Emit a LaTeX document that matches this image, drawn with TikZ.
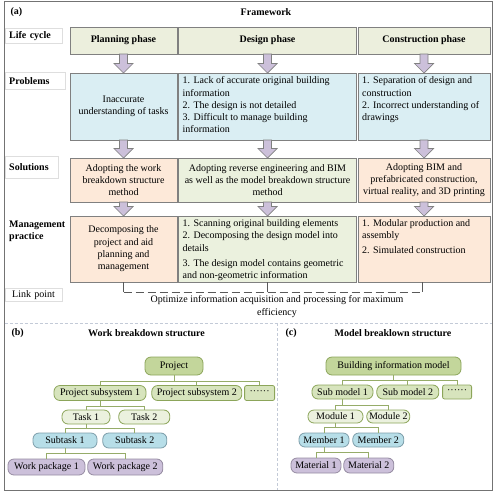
\documentclass[tikz,border=0pt]{standalone}
\usepackage{fontspec}
\setmainfont{Liberation Serif}
\usetikzlibrary{positioning, calc}

\newcommand{\cellfont}{\fontsize{10}{12.3}\selectfont}

\definecolor{cellline}{RGB}{128,128,128}
\definecolor{lifefill}{RGB}{236,239,221}
\definecolor{probfill}{RGB}{218,238,243}
\definecolor{peachfill}{RGB}{253,233,217}
\definecolor{greenfill}{RGB}{235,241,222}
\definecolor{arrfill}{RGB}{204,192,218}
\definecolor{arrline}{RGB}{128,128,128}
\definecolor{labline}{RGB}{222,222,222}
\definecolor{sepline}{RGB}{195,202,215}
\definecolor{lvAfill}{RGB}{195,214,155}
\definecolor{lvBfill}{RGB}{215,228,189}
\definecolor{lvCfill}{RGB}{235,241,222}
\definecolor{lvDfill}{RGB}{183,222,232}
\definecolor{lvEfill}{RGB}{204,192,218}
\definecolor{greenline}{RGB}{140,165,90}
\definecolor{blueline}{RGB}{125,158,170}
\definecolor{purpline}{RGB}{150,140,162}
\definecolor{treeline}{RGB}{150,172,105}

\begin{document}
\begin{tikzpicture}[
  x=1pt, y=-1pt,
  font=\cellfont,
  node distance=19pt and 1.5pt,
  cell/.style={draw=cellline, line width=0.8pt, inner sep=0pt, outer sep=0pt, align=center},
  lifecell/.style={cell, fill=lifefill, minimum height=27pt, font=\cellfont\bfseries},
  probcell/.style={cell, fill=probfill, minimum height=67pt},
  solcell/.style={cell, minimum height=44pt},
  mgmtcell/.style={cell, minimum height=66pt},
  listtxt/.style={anchor=north west, align=left, inner xsep=4pt, inner ysep=3.5pt},
  rowlab/.style={anchor=west, draw=labline, align=left, inner xsep=4pt, inner ysep=1pt, font=\cellfont\bfseries},
  hd/.style={font=\cellfont\bfseries},
  blockarr/.style={draw=arrline, fill=arrfill, line width=0.7pt},
  linkline/.style={draw=black!65, line width=0.8pt},
  sep/.style={draw=sepline, line width=0.6pt, dash pattern=on 3pt off 2pt},
  tnode/.style={rounded corners=6pt, line width=0.8pt, inner xsep=2pt, inner ysep=0pt, minimum height=15pt},
  lvA/.style={tnode, draw=greenline, fill=lvAfill},
  lvB/.style={tnode, draw=greenline, fill=lvBfill},
  lvC/.style={tnode, draw=greenline, fill=lvCfill},
  lvD/.style={tnode, draw=blueline, fill=lvDfill},
  lvE/.style={tnode, draw=purpline, fill=lvEfill},
  dots/.style={lvB, rounded corners=2pt},
  tline/.style={draw=treeline, line width=0.8pt}
]
\useasboundingbox (0,0) rectangle (495,493);
\draw[draw=black!55, line width=0.8pt] (4,1.5) rectangle (492.5,490.5);

% panel (a)
\node[hd, anchor=west] (taga) at (7,12) {(a)};
\node[hd] (framework) at (266,12) {Framework};

\node[rowlab, text width=49pt, minimum height=15pt] (lablife) at (5,36) {Life cycle};
\node[rowlab, text width=52pt, minimum height=17pt] (labprob) at (5,81) {Problems};
\node[rowlab, text width=45pt, minimum height=22pt] (labsol) at (5,167) {Solutions};
\node[rowlab, draw=none, text width=60pt] (labmgmt) at (5,231.5) {Management\\practice};
\node[rowlab, font=\cellfont, text width=43pt, inner xsep=7pt, minimum height=13pt] (lablink) at (5,295) {Link point};

\node[lifecell, minimum width=107pt] (plife) at (123.5,40.5) {Planning phase};
\node[lifecell, minimum width=178pt, right=of plife] (dlife) {Design phase};
\node[lifecell, minimum width=132pt, right=of dlife] (clife) {Construction phase};

\node[probcell, minimum width=107pt, below=19pt of plife] (pprob) {Inaccurate\\understanding of tasks};
\node[probcell, minimum width=178pt, below=19pt of dlife] (dprob) {};
\node[probcell, minimum width=132pt, below=19pt of clife] (cprob) {};
\node[listtxt] (dprobtxt) at (dprob.north west) {1. Lack of accurate original building\\information\\2. The design is not detailed\\3. Difficult to manage building\\information};
\node[listtxt] (cprobtxt) at (cprob.north west) {1. Separation of design and\\construction\\2. Incorrect understanding of\\drawings};

\node[solcell, fill=peachfill, minimum width=107pt, below=18pt of pprob] (psol) {Adopting the work\\breakdown structure\\method};
\node[solcell, fill=greenfill, minimum width=178pt, below=18pt of dprob] (dsol) {Adopting reverse engineering and BIM\\as well as the model breakdown structure\\method};
\node[solcell, fill=peachfill, minimum width=132pt, below=18pt of cprob] (csol) {Adopting BIM and\\prefabricated construction,\\virtual reality, and 3D printing};

\node[mgmtcell, fill=peachfill, minimum width=107pt, below=14pt of psol] (pmgmt) {Decomposing the\\project and aid\\planning and\\management};
\node[mgmtcell, fill=greenfill, minimum width=178pt, below=14pt of dsol] (dmgmt) {};
\node[mgmtcell, fill=peachfill, minimum width=132pt, below=14pt of csol] (cmgmt) {};
\node[listtxt] (dmgmttxt) at (dmgmt.north west) {1. Scanning original building elements\\2. Decomposing the design model into\\details\\[2.5pt]3. The design model contains geometric\\and non-geometric information};
\node[listtxt] (cmgmttxt) at (cmgmt.north west) {1. Modular production and\\assembly\\[2.5pt]2. Simulated construction};

\foreach \a/\b in {plife/pprob, dlife/dprob, clife/cprob, pprob/psol, dprob/dsol, cprob/csol, psol/pmgmt, dsol/dmgmt, csol/cmgmt}
  \draw[blockarr] let \p1=(\a.south), \p2=(\b.north) in
    (\x1-4pt,\y1) -- (\x1-4pt,\y2+9.5pt) -- (\x1-9.5pt,\y2+9.5pt) -- (\x1,\y2)
    -- (\x1+9.5pt,\y2+9.5pt) -- (\x1+4pt,\y2+9.5pt) -- (\x1+4pt,\y1) -- cycle;

% link point
\coordinate (lk1) at ([yshift=-10pt]pmgmt.south);
\coordinate (lk2) at ([yshift=-10pt]dmgmt.south);
\coordinate (lk3) at ([yshift=-10pt,xshift=-2pt]cmgmt.south);
\draw[linkline] (pmgmt.south) -- (lk1);
\draw[linkline] (dmgmt.south) -- (lk2);
\draw[linkline] ([xshift=-2pt]cmgmt.south) -- (lk3);
\draw[linkline, dash pattern=on 8pt off 4pt] (lk1) -- (lk3);
\node[align=center] (linktxt) at (277,306.5) {Optimize information acquisition and processing for maximum\\efficiency};

\draw[sep] (4.5,323) -- (492,323);
\draw[sep] (277,323) -- (277,490);

% panel (b)
\node[hd, anchor=west] (tagb) at (8,333) {(b)};
\node[hd] (wbstitle) at (146.5,333) {Work breakdown structure};

\node[lvA, minimum width=58pt, minimum height=18pt] (proj) at (174,366) {Project};
\node[lvB, minimum width=92pt] (sub1) at (100,393) {Project subsystem 1};
\node[lvB, minimum width=90pt, right=5pt of sub1] (sub2) {Project subsystem 2};
\node[dots, minimum width=30pt, right=2pt of sub2] (more1) {······};
\node[lvC, minimum width=48pt, minimum height=14pt] (task1) at (86,417) {Task 1};
\node[lvC, minimum width=51pt, minimum height=14pt, right=8pt of task1] (task2) {Task 2};
\node[lvD, minimum width=64pt] (subt1) at (65,440.5) {Subtask 1};
\node[lvD, minimum width=64pt, right=5pt of subt1] (subt2) {Subtask 2};
\node[lvE, minimum width=77pt, minimum height=16pt] (wp1) at (46.5,467) {Work package 1};
\node[lvE, minimum width=75pt, minimum height=16pt, right=2pt of wp1] (wp2) {Work package 2};

\foreach \c in {sub1, sub2, more1} \draw[tline] (proj.south) -- ++(0,6) -| (\c.north);
\foreach \c in {task1, task2} \draw[tline] (sub1.south) -- ++(0,5) -| (\c.north);
\foreach \c in {subt1, subt2} \draw[tline] (task1.south) -- ++(0,4) -| (\c.north);
\foreach \c in {wp1, wp2} \draw[tline] (subt1.south) -- ++(0,5) -| (\c.north);

% panel (c)
\node[hd, anchor=west] (tagc) at (282,333) {(c)};
\node[hd] (mbstitle) at (393,333) {Model breaklown structure};

\node[lvA, minimum width=135pt, minimum height=18pt] (bim) at (393.5,366) {Building information model};
\node[lvB, minimum width=61pt, minimum height=14pt] (sm1) at (342.5,392) {Sub model 1};
\node[lvB, minimum width=62pt, minimum height=14pt, right=3pt of sm1] (sm2) {Sub model 2};
\node[dots, minimum width=29pt, minimum height=14pt, right=3pt of sm2] (more2) {······};
\node[lvC, minimum width=55pt, minimum height=13pt] (mod1) at (335.5,416.5) {Module 1};
\node[lvC, minimum width=43pt, minimum height=13pt, right=3pt of mod1] (mod2) {Module 2};
\node[lvD, minimum width=50pt, minimum height=14pt] (mem1) at (324,440) {Member 1};
\node[lvD, minimum width=51pt, minimum height=14pt, right=3pt of mem1] (mem2) {Member 2};
\node[lvE, minimum width=50pt] (mat1) at (316,465.5) {Material 1};
\node[lvE, minimum width=50pt, right=2pt of mat1] (mat2) {Material 2};

\foreach \c in {sm1, sm2, more2} \draw[tline] (bim.south) -- ++(0,5) -| (\c.north);
\foreach \c in {mod1, mod2} \draw[tline] (sm1.south) -- ++(0,6) -| (\c.north);
\foreach \c in {mem1, mem2} \draw[tline] (mod1.south) -- ++(0,4) -| (\c.north);
\foreach \c in {mat1, mat2} \draw[tline] (mem1.south) -- ++(0,5) -| (\c.north);
\end{tikzpicture}
\end{document}
